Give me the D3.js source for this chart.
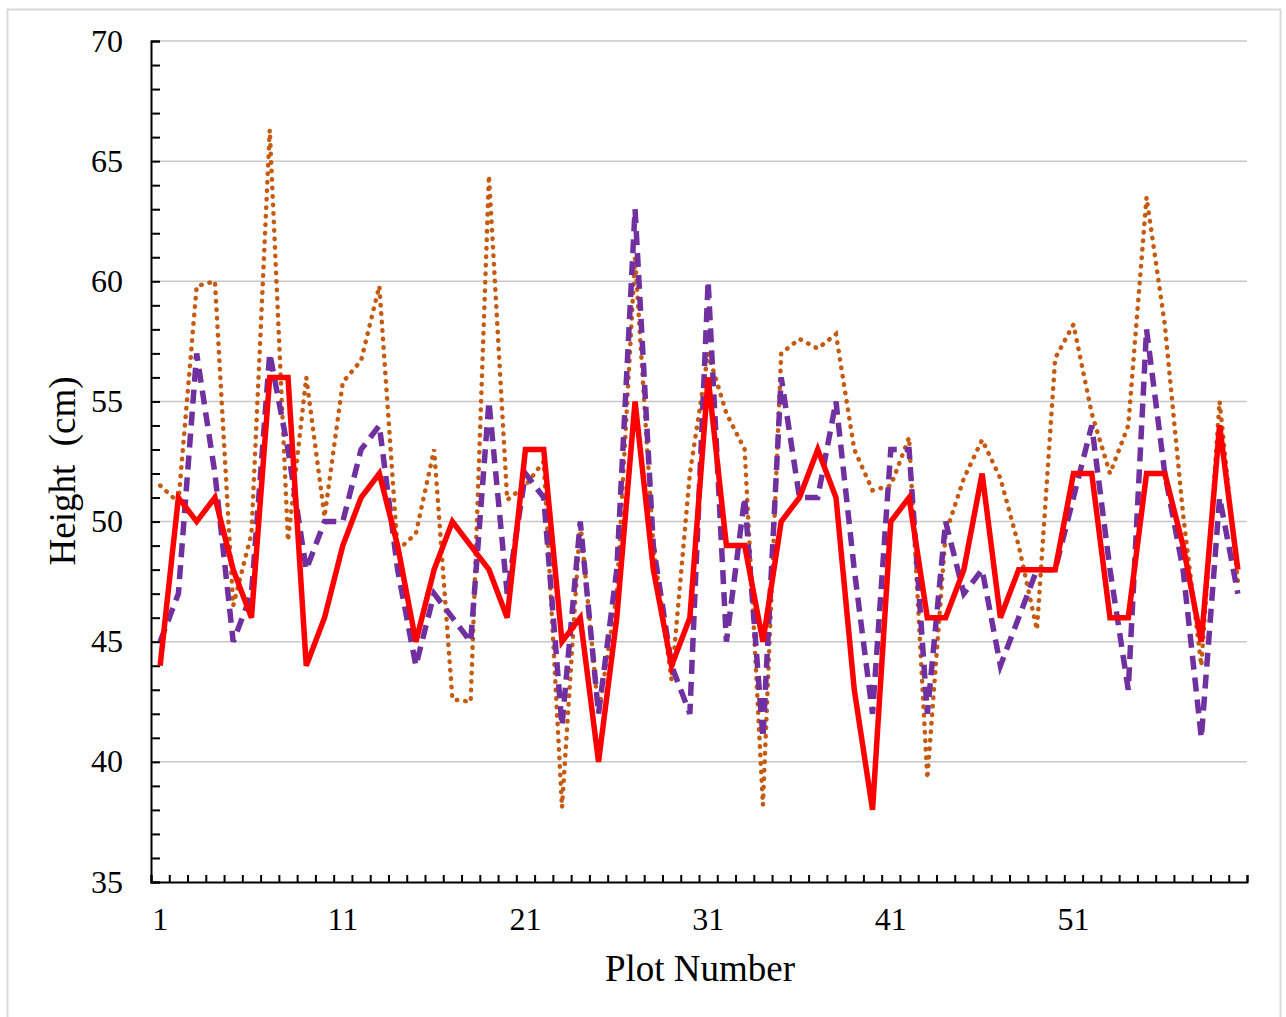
<!DOCTYPE html>
<html>
<head>
<meta charset="utf-8">
<script src="https://d3js.org/d3.v7.min.js"></script>
<style>
  body { margin: 0; background: #fff; }
  text { font-family: "Liberation Serif", "Times New Roman", serif; fill: #000; }
</style>
</head>
<body>
<svg id="chart"></svg>
<script>
  var Width = 1286, Height = 1017;

  // plot numbers 1..60
  var plots = d3.range(1, 61);

  // solid red series
  var redVals = [44, 51, 50, 51, 48, 46, 56, 56, 44, 46,
                 49, 51, 52, 49, 45, 48, 50, 49, 48, 46,
                 53, 53, 45, 46, 40, 46, 55, 48, 44, 46,
                 56, 49, 49, 45, 50, 51, 53, 51, 43, 38,
                 50, 51, 46, 46, 48, 52, 46, 48, 48, 48,
                 52, 52, 46, 46, 52, 52, 49, 45, 54, 48];

  // dashed purple series
  var purpleVals = [45, 47, 57, 52, 45, 47, 57, 53, 48, 50,
                    50, 53, 54, 48, 44, 47, 46, 45, 55, 47,
                    52, 51, 41.5, 50, 42, 48, 63, 49, 44, 42,
                    60, 45, 51, 41, 56, 51, 51, 55, 48, 42,
                    53, 53, 42, 50, 47, 48, 44, 46, 48, 48,
                    51, 54, 48, 43, 58, 52, 48, 41, 51, 47];

  // dotted orange series
  var orangeVals = [51.5, 50.8, 59.8, 60, 46.5, 49.5, 66.3, 49.2, 56, 50.2,
                    55.8, 56.7, 59.8, 48.8, 49.5, 53, 42.6, 42.5, 64.4, 50.9,
                    51.5, 52.5, 38.1, 50, 42, 47, 61, 49, 43.4, 52,
                    57, 54.5, 53, 38.2, 57, 57.6, 57.2, 57.8, 53, 51.3,
                    51.5, 53.5, 39.3, 49.5, 51.8, 53.4, 51.8, 49, 45.5, 56.8,
                    58.2, 54.5, 52, 54, 63.5, 58.2, 50.3, 44, 55, 47.5];

  var yMajor = [35, 40, 45, 50, 55, 60, 65, 70];
  var xLabels = [1, 11, 21, 31, 41, 51];

  var svg = d3.select("#chart")
      .attr("width", Width)
      .attr("height", Height);

  // outer frame
  svg.append("rect")
      .attr("x", 7.5).attr("y", 9.5)
      .attr("width", 1273).attr("height", 1020)
      .attr("fill", "#fff")
      .attr("stroke", "#d9d9d9")
      .attr("stroke-width", 2);

  var x = d3.scaleLinear()
      .domain([0.5, 60.5])
      .range([151, 1247]);

  var y = d3.scaleLinear()
      .domain([35, 70])
      .range([882, 41]);

  // gridlines
  svg.append("g")
      .selectAll("line")
      .data(yMajor.filter(function(d){ return d > 35; }))
      .enter()
      .append("line")
        .attr("x1", x(0.5)).attr("x2", x(60.5))
        .attr("y1", function(d){ return y(d); })
        .attr("y2", function(d){ return y(d); })
        .attr("stroke", "#c8c8c8")
        .attr("stroke-width", 1.5);

  // y axis with a tick every unit, labels every 5
  var yAxis = d3.axisLeft(y)
      .tickValues(d3.range(35, 71, 1))
      .tickSize(-9)
      .tickPadding(0)
      .tickFormat("");
  var gy = svg.append("g")
      .attr("transform", "translate(" + x(0.5) + ",0)")
      .call(yAxis);
  gy.select(".domain").attr("stroke", "#000").attr("stroke-width", 2);
  gy.selectAll(".tick line").attr("stroke", "#000").attr("stroke-width", 2);

  svg.append("g")
      .selectAll("text")
      .data(yMajor)
      .enter()
      .append("text")
        .attr("x", 123)
        .attr("y", function(d){ return y(d); })
        .attr("dy", "0.33em")
        .attr("text-anchor", "end")
        .style("font-size", "32px")
        .text(function(d){ return d; });

  // x axis: ticks between plots, pointing up
  var xAxis = d3.axisBottom(x)
      .tickValues(d3.range(0.5, 61, 1))
      .tickSize(-7)
      .tickFormat("");
  var gx = svg.append("g")
      .attr("transform", "translate(0," + y(35) + ")")
      .call(xAxis);
  gx.select(".domain").attr("stroke", "#000").attr("stroke-width", 2);
  gx.selectAll(".tick line").attr("stroke", "#000").attr("stroke-width", 2);

  svg.append("g")
      .selectAll("text")
      .data(xLabels)
      .enter()
      .append("text")
        .attr("x", function(d){ return x(d); })
        .attr("y", 930)
        .attr("text-anchor", "middle")
        .style("font-size", "32px")
        .text(function(d){ return d; });

  // axis titles
  svg.append("text")
      .attr("x", 700)
      .attr("y", 981)
      .attr("text-anchor", "middle")
      .style("font-size", "37px")
      .text("Plot Number");

  svg.append("text")
      .attr("transform", "translate(75,471) rotate(-90)")
      .attr("text-anchor", "middle")
      .style("font-size", "37px")
      .style("white-space", "pre")
      .text("Height  (cm)");

  // series
  function lineFor(vals)
  {
      return d3.line()
          .x(function(d, i){ return x(plots[i]); })
          .y(function(d){ return y(d); })(vals);
  }

  svg.append("path")
      .attr("d", lineFor(orangeVals))
      .attr("fill", "none")
      .attr("stroke", "#c55a11")
      .attr("stroke-width", 4.5)
      .attr("stroke-linecap", "round")
      .attr("stroke-dasharray", "0.5 8");

  svg.append("path")
      .attr("d", lineFor(purpleVals))
      .attr("fill", "none")
      .attr("stroke", "#7030a0")
      .attr("stroke-width", 5.5)
      .attr("stroke-dasharray", "14 8");

  svg.append("path")
      .attr("d", lineFor(redVals))
      .attr("fill", "none")
      .attr("stroke", "#ff0000")
      .attr("stroke-width", 5.5);
</script>
</body>
</html>
